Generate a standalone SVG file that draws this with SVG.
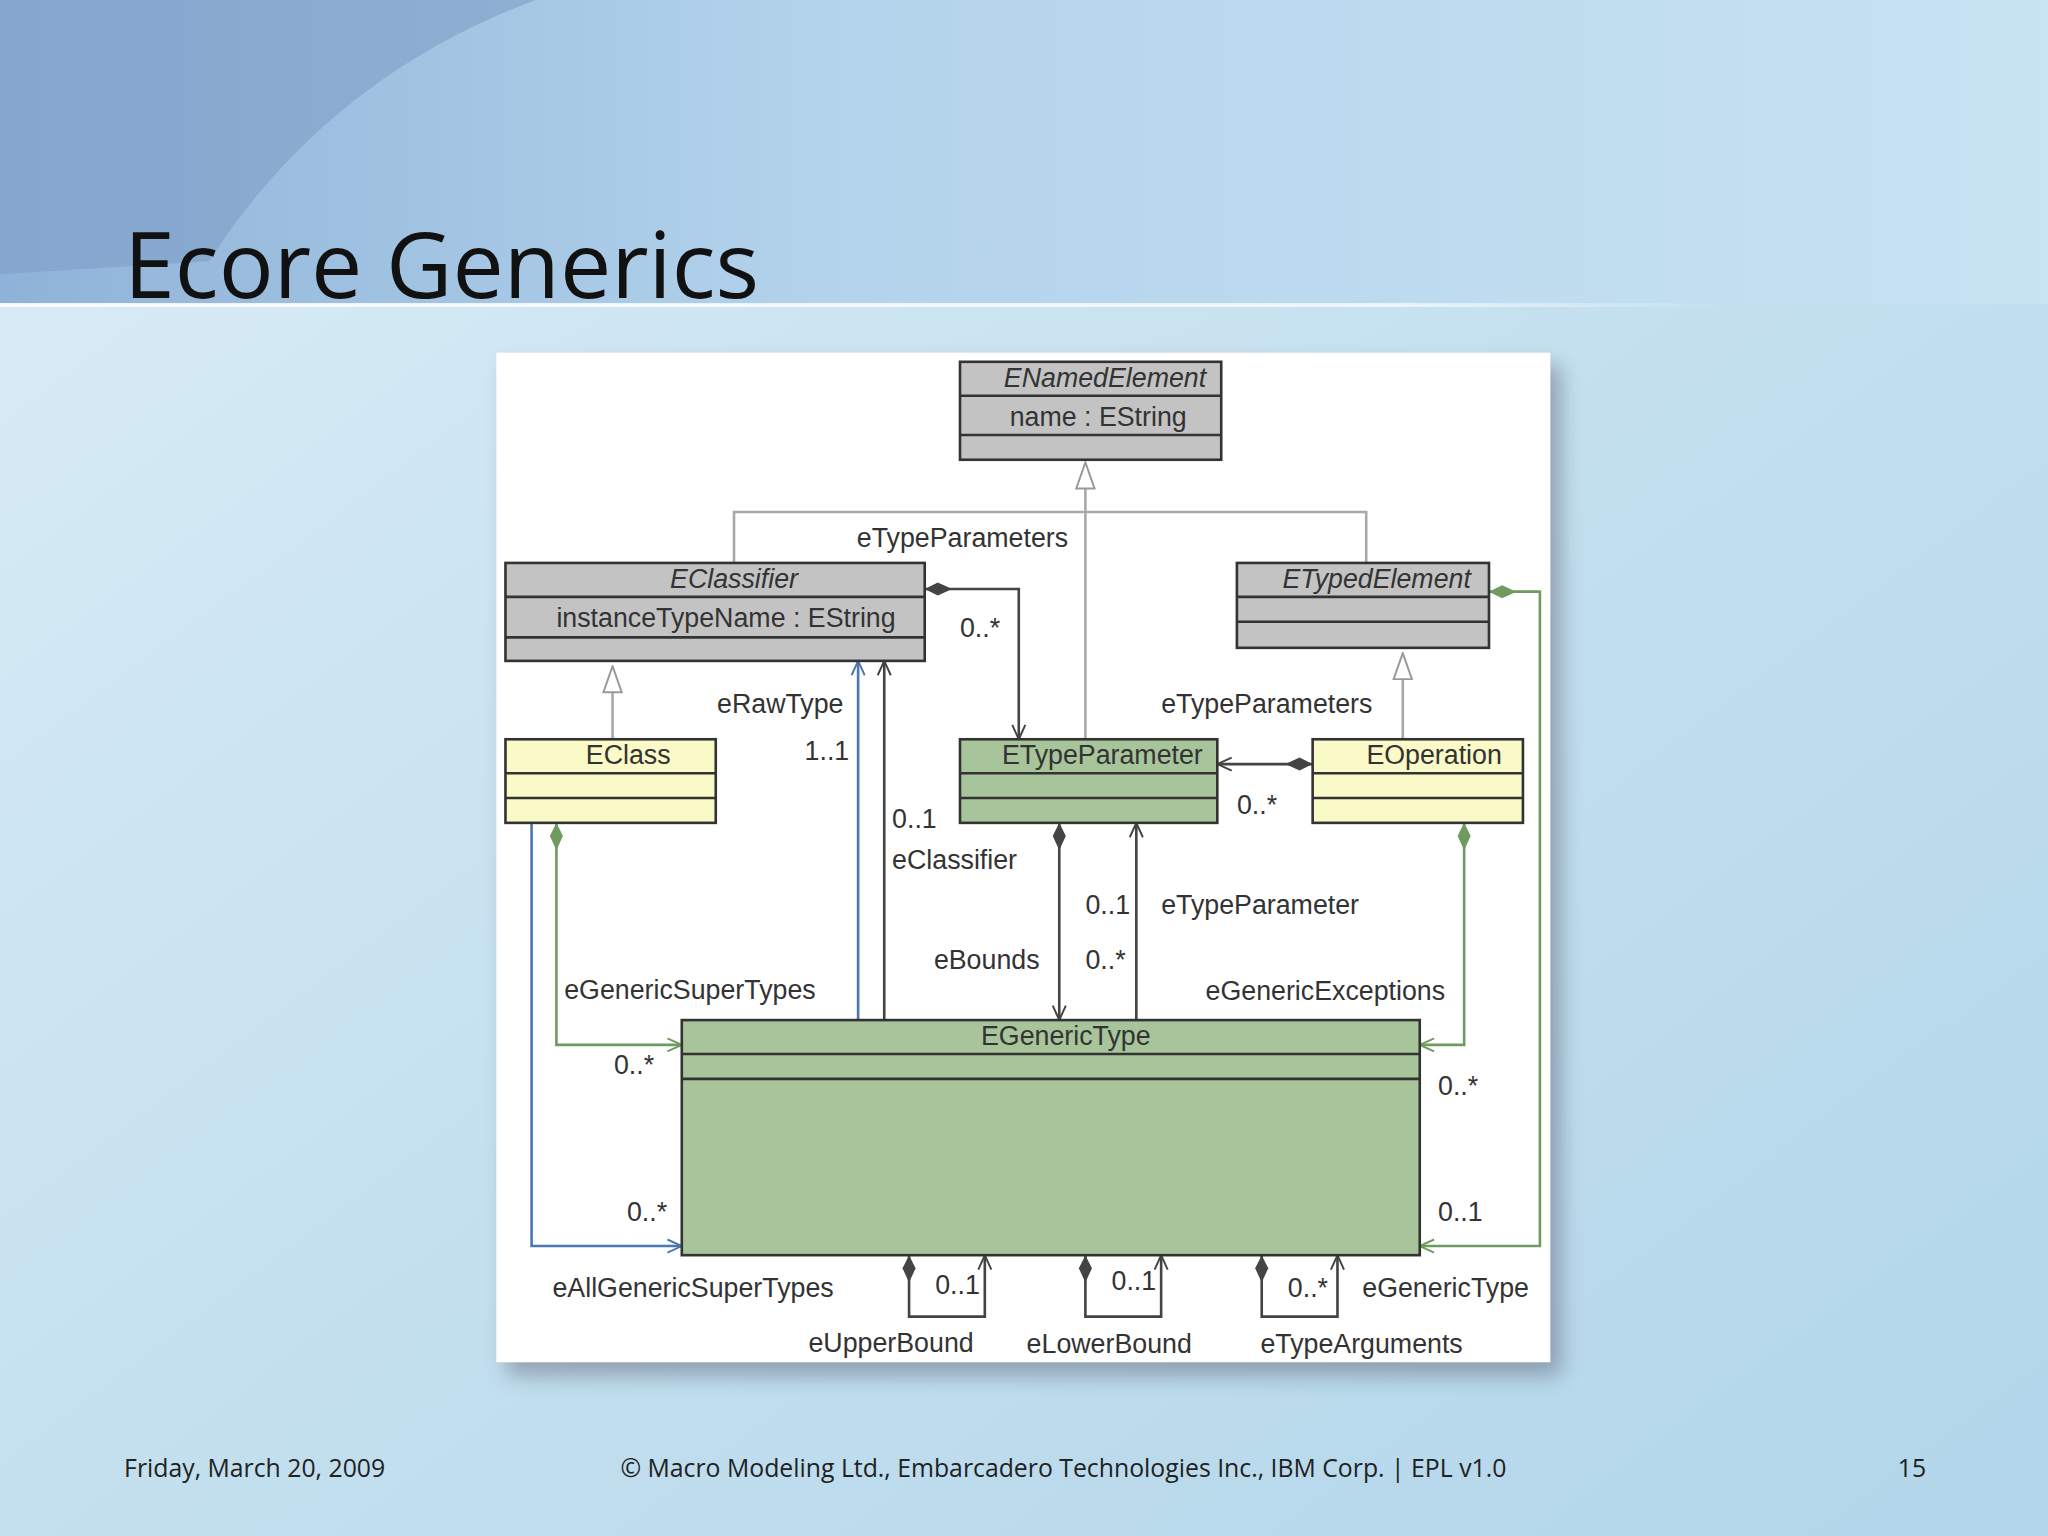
<svg xmlns="http://www.w3.org/2000/svg" width="2048" height="1536" viewBox="0 0 2048 1536">
<defs>
<linearGradient id="bg" x1="0" y1="0" x2="1" y2="1"><stop offset="0" stop-color="#dceef7"/><stop offset="0.5" stop-color="#c4e0ef"/><stop offset="1" stop-color="#b2d6ea"/></linearGradient>
<linearGradient id="top" x1="0" y1="0" x2="1" y2="0"><stop offset="0" stop-color="#8fb3d8"/><stop offset="0.4" stop-color="#b3d3ec"/><stop offset="1" stop-color="#c8e3f2"/></linearGradient>
<linearGradient id="ln" x1="0" y1="0" x2="1" y2="0"><stop offset="0" stop-color="#fff" stop-opacity="0.9"/><stop offset="0.8" stop-color="#fff" stop-opacity="0.7"/><stop offset="1" stop-color="#fff" stop-opacity="0"/></linearGradient>
<filter id="sh" x="-10%" y="-10%" width="130%" height="130%"><feGaussianBlur stdDeviation="8"/></filter>
<marker id="tri" markerWidth="22" markerHeight="22" refX="1" refY="8" orient="auto" markerUnits="userSpaceOnUse" viewBox="0 0 22 16"><path d="M1,1 L21,8 L1,15 Z" fill="#fff" stroke="#999" stroke-width="1.5"/></marker>
<marker id="open" markerWidth="14" markerHeight="14" refX="12" refY="6" orient="auto" markerUnits="userSpaceOnUse"><path d="M1,1 L12,6 L1,11" fill="none" stroke="context-stroke" stroke-width="1.5"/></marker>
<marker id="dia" markerWidth="24" markerHeight="12" refX="1" refY="6" orient="auto" markerUnits="userSpaceOnUse"><path d="M1,6 L11,1 L22,6 L11,11 Z" fill="context-stroke"/></marker>
<style>
.t{font-family:"Liberation Sans",Arial,sans-serif;font-size:20.5px;fill:#333}
.i{font-style:italic}
.box{stroke:#333;stroke-width:2}
.g{fill:#c3c3c3}.y{fill:#fafac8}.gr{fill:#a8c49a}
.gen{fill:none;stroke:#a8a8a8;stroke-width:2}
.k{fill:none;stroke:#444;stroke-width:2}
.b{fill:none;stroke:#4a78b0;stroke-width:2}
.G{fill:none;stroke:#6f9a60;stroke-width:2}
.f{font-family:"Open Sans","Noto Sans",sans-serif;font-size:19px;fill:#222}
</style>
</defs>
<rect width="2048" height="1536" fill="url(#bg)"/>
<g transform="scale(1.306122)">
<rect x="0" y="0" width="1568" height="233" fill="url(#top)"/>
<path d="M0,0 L410,0 Q250,60 160,200 L0,210 Z" fill="#7f9fc7" opacity="0.6"/>
<rect x="0" y="232" width="1320" height="3" fill="url(#ln)"/>
<text x="95" y="228" style="font-family:'Open Sans','Noto Sans',sans-serif;font-size:70px;fill:#111">Ecore Generics</text>
<rect x="388" y="280" width="807" height="773" fill="#556" opacity="0.45" filter="url(#sh)"/>
<rect x="380" y="270" width="807" height="773" fill="#fff"/>

<g id="connectors">
<path class="gen" d="M562,431 V392 H1046 V431"/>
<path class="gen" d="M831,566 V374" marker-end="url(#tri)"/>
<path class="gen" d="M469,566 V530" marker-end="url(#tri)"/>
<path class="gen" d="M1074,566 V520" marker-end="url(#tri)"/>
<path class="k" d="M708,451 H780 V566" marker-start="url(#dia)" marker-end="url(#open)"/>
<path class="k" d="M1005,585 H932" marker-start="url(#dia)" marker-end="url(#open)"/>
<path class="b" d="M657,781 V506" marker-end="url(#open)"/>
<path class="k" d="M677,781 V506" marker-end="url(#open)"/>
<path class="k" d="M811,630 V781" marker-start="url(#dia)" marker-end="url(#open)"/>
<path class="k" d="M870,781 V630" marker-end="url(#open)"/>
<path class="G" d="M426,630 V800 H522" marker-start="url(#dia)" marker-end="url(#open)"/>
<path class="b" d="M407,630 V954 H522" marker-end="url(#open)"/>
<path class="G" d="M1121,630 V800 H1087" marker-start="url(#dia)" marker-end="url(#open)"/>
<path class="G" d="M1140,453 H1179 V954 H1087" marker-start="url(#dia)" marker-end="url(#open)"/>
<path class="k" d="M696,961 V1008 H754 V961" marker-start="url(#dia)" marker-end="url(#open)"/>
<path class="k" d="M831,961 V1008 H889 V961" marker-start="url(#dia)" marker-end="url(#open)"/>
<path class="k" d="M966,961 V1008 H1024 V961" marker-start="url(#dia)" marker-end="url(#open)"/>
</g>

<g id="ENamedElement"><rect class="box g" x="735" y="277" width="200" height="75"/><path class="box" d="M735,303 H935 M735,333 H935"/><text class="t i" x="846" y="296" text-anchor="middle">ENamedElement</text><text class="t" x="773" y="326">name : EString</text></g>
<g id="EClassifier"><rect class="box g" x="387" y="431" width="321" height="75"/><path class="box" d="M387,457 H708 M387,488 H708"/><text class="t i" x="562" y="450" text-anchor="middle">EClassifier</text><text class="t" x="426" y="480">instanceTypeName : EString</text></g>
<g id="ETypedElement"><rect class="box g" x="947" y="431" width="193" height="65"/><path class="box" d="M947,457 H1140 M947,476 H1140"/><text class="t i" x="1054" y="450" text-anchor="middle">ETypedElement</text></g>
<g id="EClass"><rect class="box y" x="387" y="566" width="161" height="64"/><path class="box" d="M387,592 H548 M387,611 H548"/><text class="t" x="481" y="585" text-anchor="middle">EClass</text></g>
<g id="ETypeParameter"><rect class="box gr" x="735" y="566" width="197" height="64"/><path class="box" d="M735,592 H932 M735,611 H932"/><text class="t" x="844" y="585" text-anchor="middle">ETypeParameter</text></g>
<g id="EOperation"><rect class="box y" x="1005" y="566" width="161" height="64"/><path class="box" d="M1005,592 H1166 M1005,611 H1166"/><text class="t" x="1098" y="585" text-anchor="middle">EOperation</text></g>
<g id="EGenericType"><rect class="box gr" x="522" y="781" width="565" height="180"/><path class="box" d="M522,807 H1087 M522,826 H1087"/><text class="t" x="816" y="800" text-anchor="middle">EGenericType</text></g>

<g id="labels">
<text class="t" x="656" y="419">eTypeParameters</text><text class="t" x="735" y="488">0..*</text>
<text class="t" x="889" y="546">eTypeParameters</text><text class="t" x="947" y="623">0..*</text>
<text class="t" x="549" y="546">eRawType</text><text class="t" x="616" y="582">1..1</text>
<text class="t" x="683" y="634">0..1</text><text class="t" x="683" y="665">eClassifier</text>
<text class="t" x="831" y="700">0..1</text><text class="t" x="889" y="700">eTypeParameter</text>
<text class="t" x="715" y="742">eBounds</text><text class="t" x="831" y="742">0..*</text>
<text class="t" x="432" y="765">eGenericSuperTypes</text><text class="t" x="470" y="822">0..*</text>
<text class="t" x="923" y="766">eGenericExceptions</text><text class="t" x="1101" y="838">0..*</text>
<text class="t" x="480" y="935">0..*</text><text class="t" x="1101" y="935">0..1</text>
<text class="t" x="423" y="993">eAllGenericSuperTypes</text>
<text class="t" x="716" y="991">0..1</text><text class="t" x="851" y="988">0..1</text><text class="t" x="986" y="993">0..*</text>
<text class="t" x="1043" y="993">eGenericType</text>
<text class="t" x="619" y="1035">eUpperBound</text><text class="t" x="786" y="1036">eLowerBound</text><text class="t" x="965" y="1036">eTypeArguments</text>
</g>
<text class="f" x="95" y="1131">Friday, March 20, 2009</text>
<text class="f" x="475" y="1131">© Macro Modeling Ltd., Embarcadero Technologies Inc., IBM Corp. | EPL v1.0</text>
<text class="f" x="1453" y="1131">15</text>
</g>
</svg>
